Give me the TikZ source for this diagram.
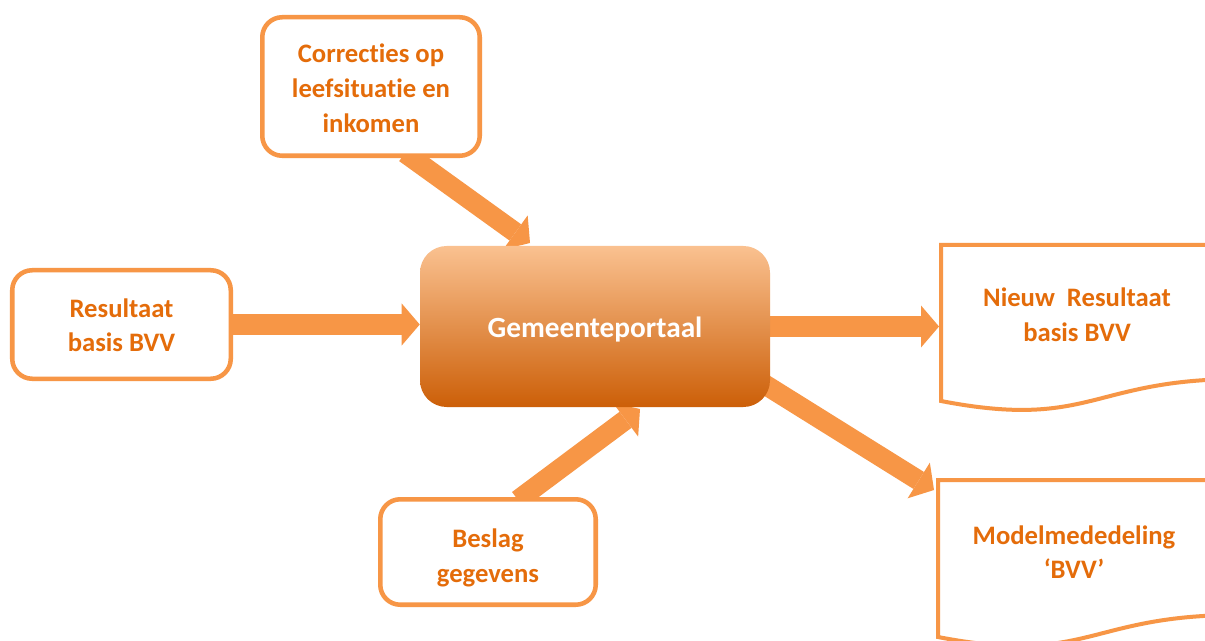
\documentclass[tikz,border=0pt]{standalone}
\usepackage{fontspec}
\setmainfont{Carlito}[Ligatures=NoCommon]
\usetikzlibrary{arrows.meta}
\pgfdeclarelayer{background}
\pgfsetlayers{background,main}
\definecolor{boxorange}{HTML}{F79646}
\definecolor{txtorange}{HTML}{E46C0A}
\definecolor{gradtop}{HTML}{FAC190}
\definecolor{gradmid}{HTML}{F6994B}
\definecolor{gradbot}{HTML}{CC5F08}
\newcommand\droptext[2]{\raisebox{-#1}[\height][\depth]{\begin{tabular}{@{}c@{}}#2\end{tabular}}}
\tikzset{
  inbox/.style={draw=boxorange, line width=3.4pt, rounded corners=15pt, fill=white,
    align=center, text=txtorange, inner sep=0pt,
    font=\fontsize{20}{26}\selectfont\bfseries},
  portalbox/.style={rounded corners=20pt, top color=gradtop, middle color=gradmid,
    bottom color=gradbot, text=white, align=center, inner sep=0pt,
    minimum width=262.5pt, minimum height=120.75pt,
    font=\fontsize{22}{26}\selectfont\bfseries},
  doctext/.style={align=center, text=txtorange, inner sep=0pt,
    font=\fontsize{20}{26}\selectfont\bfseries},
  docline/.style={draw=boxorange, line width=3pt, fill=white, line join=miter},
  blockarrow/.style={draw=boxorange, line width=15pt,
    -{Triangle[length=13.5pt,width=31.5pt,line width=0pt,fill=boxorange]}},
}
\begin{document}
\begin{tikzpicture}[x=0.75pt,y=-0.75pt]
\useasboundingbox (0,0) rectangle (1205,641);
\clip (0,0) rectangle (1205,641);

% documents
\draw[docline] (1250,379) -- (1250,245) -- (941,245) -- (941,401)
  .. controls (1091,430) and (1091,379) .. (1241,379) -- (1250,379);
\draw[docline] (1250,615) -- (1250,480) -- (938,480) -- (938,637)
  .. controls (1088,666) and (1088,615) .. (1238,615) -- (1250,615);

% nodes
\node[portalbox] (portal) at (595,326.5) {\droptext{3pt}{Gemeenteportaal}};
\node[inbox, minimum width=163.1pt, minimum height=103.9pt] (corr) at (371,86.5)
  {\droptext{3pt}{Correcties op\\leefsituatie en\\inkomen}};
\node[inbox, minimum width=163.9pt, minimum height=81.4pt] (res) at (121.5,324.5)
  {\droptext{2.25pt}{Resultaat\\basis BVV}};
\node[inbox, minimum width=161.6pt, minimum height=79.1pt] (beslag) at (488,552)
  {\droptext{4.5pt}{Beslag\\gegevens}};
\node[doctext] (nieuw) at (1077,315) {Nieuw\ \ Resultaat\\basis BVV};
\node[doctext] (model) at (1074,552) {Modelmededeling\\‘BVV’};

% connector end points
\coordinate (corrOut) at (405,153);
\coordinate (portalTop) at (530,243);
\coordinate (beslagOut) at (518,500);
\coordinate (portalBot) at (640,409);
\coordinate (portalOut) at (760,381.5);
\coordinate (modelIn) at (934,490);
\coordinate (nieuwIn) at (939,327);

\begin{pgfonlayer}{background}
\fill[white] (0,0) rectangle (1205,641);
\draw[blockarrow] (res.east) -- (res.east -| portal.west);
\draw[blockarrow] (portal.east) -- (portal.east -| nieuwIn);
\draw[blockarrow] (corrOut) -- (portalTop);
\draw[blockarrow] (beslagOut) -- (portalBot);
\draw[blockarrow] (portalOut) -- (modelIn);
\end{pgfonlayer}
\end{tikzpicture}
\end{document}
